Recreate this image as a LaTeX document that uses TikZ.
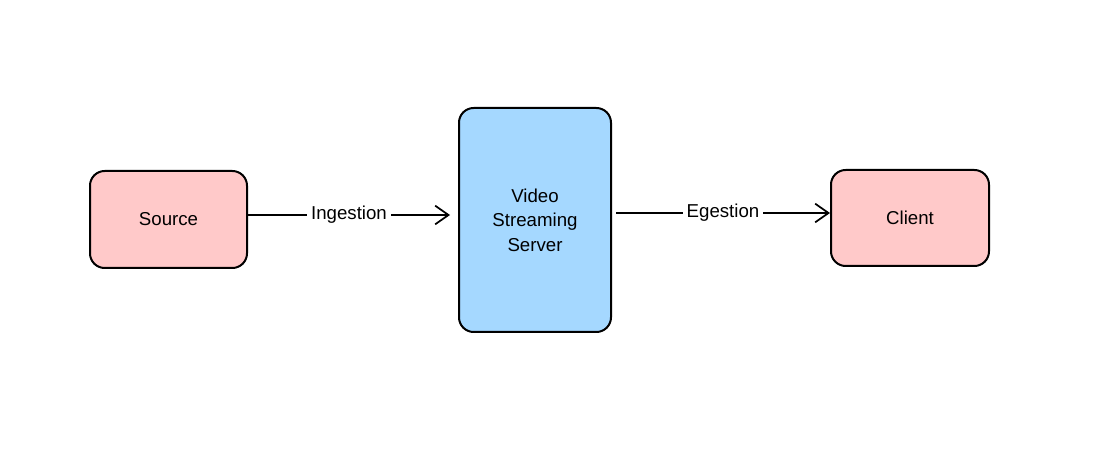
\documentclass[tikz,border=0pt]{standalone}
\usepackage{fontspec}
\setmainfont{Liberation Sans}
\usepackage{xcolor}
\usetikzlibrary{shapes, arrows.meta}

\definecolor{boxpink}{RGB}{255,201,201}
\definecolor{boxblue}{RGB}{165,216,255}

\tikzset{
    block/.style={draw=black, line width=1.5, rounded corners=11, align=center, font=\fontsize{14}{18.5}\selectfont},
    flow/.style={line width=1.3, -{Straight Barb[length=10pt,width=14pt,line width=1.3]}},
    flowlabel/.style={fill=white, inner sep=3pt, font=\fontsize{14}{18}\selectfont}
}

\begin{document}
\begin{tikzpicture}[x=0.75pt,y=0.75pt,yscale=-1,xscale=1]

        \useasboundingbox (0,0) rectangle (1100,463);

        \node (source) [block, fill=boxpink, minimum width=117.75pt, minimum height=72.75pt] at (168.5,219.5) {Source};
        \node (server) [block, fill=boxblue, minimum width=114pt, minimum height=168pt] at (535,220) {Video\\Streaming\\Server};
        \node (client) [block, fill=boxpink, minimum width=118.5pt, minimum height=72pt] at (910,218) {Client};

        \draw [flow] (source.east |- 0,215) -- node [flowlabel] {Ingestion} (450,215);
        \draw [flow] (616,213) -- node [flowlabel] {Egestion} (client.west |- 0,213);

    \end{tikzpicture}
\end{document}
